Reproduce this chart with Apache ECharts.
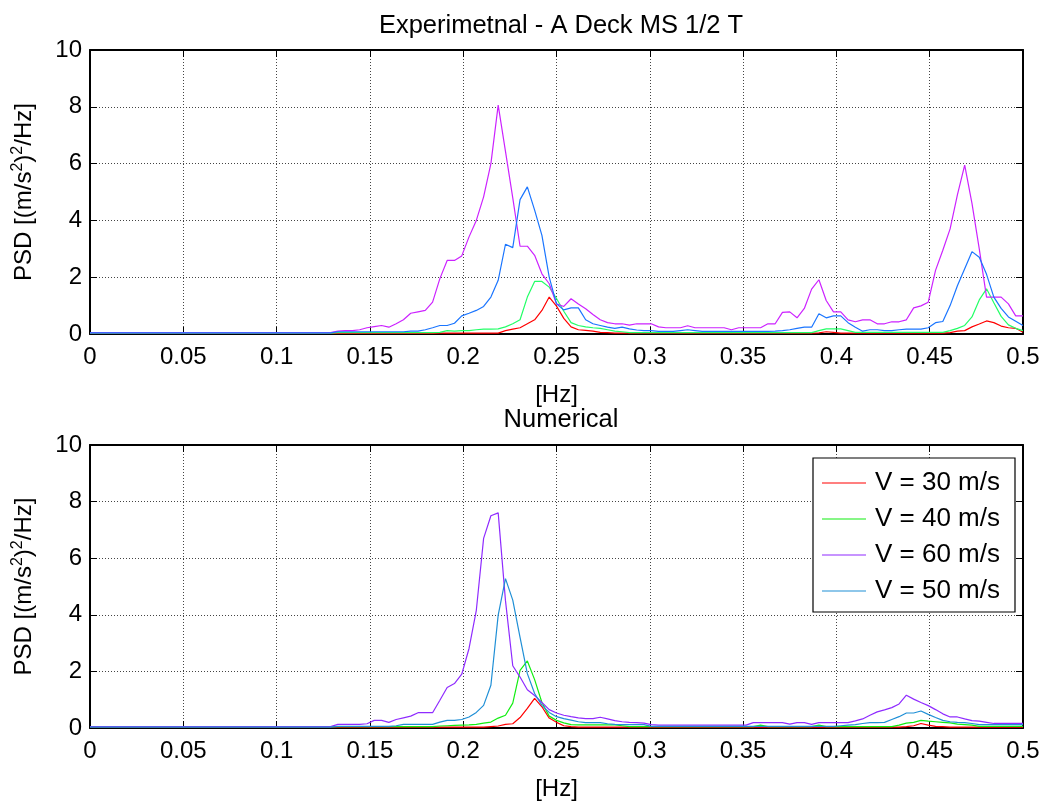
<!DOCTYPE html>
<html>
<head>
<meta charset="utf-8">
<script src="https://cdn.jsdelivr.net/npm/echarts@6/dist/echarts.min.js"></script>
<style>html,body{margin:0;padding:0;background:#fff;}#c{width:1046px;height:802px;}</style>
</head>
<body>
<div id="c"></div>
<script>
// Frequency resolution of the spectra (Hz per sample), samples from 0 to 0.5 Hz
const DF = 1 / 256;

const topTitle = 'Experimetnal - A Deck MS 1/2 T';
const bottomTitle = 'Numerical';
const seriesNames = ['V = 30 m/s', 'V = 40 m/s', 'V = 60 m/s', 'V = 50 m/s'];
const xTickLabels = ['0', '0.05', '0.1', '0.15', '0.2', '0.25', '0.3', '0.35', '0.4', '0.45', '0.5'];

// ---- Experimental (top) ----
const tR = [
0.02,0.02,0.02,0.02,0.02,0.02,0.02,0.02,0.02,0.02,
0.02,0.02,0.02,0.02,0.02,0.02,0.02,0.02,0.02,0.02,
0.02,0.02,0.02,0.02,0.02,0.02,0.02,0.02,0.02,0.02,
0.02,0.02,0.02,0.02,0.02,0.02,0.02,0.02,0.02,0.02,
0.02,0.02,0.02,0.02,0.02,0.02,0.02,0.02,0.03,0.03,
0.03,0.03,0.03,0.03,0.03,0.03,0.03,0.12,0.17,0.22,
0.36,0.50,0.83,1.30,0.98,0.55,0.25,0.15,0.13,0.10,
0.06,0.05,0.03,0.03,0.03,0.03,0.03,0.03,0.03,0.03,
0.03,0.03,0.03,0.03,0.03,0.03,0.03,0.03,0.03,0.03,
0.03,0.03,0.03,0.03,0.03,0.03,0.03,0.03,0.03,0.03,
0.04,0.08,0.06,0.03,0.03,0.03,0.03,0.03,0.03,0.03,
0.03,0.03,0.03,0.03,0.03,0.03,0.03,0.03,0.05,0.10,
0.12,0.25,0.35,0.46,0.40,0.28,0.22,0.20,0.06];
const tG = [
0.03,0.03,0.03,0.03,0.03,0.03,0.03,0.03,0.03,0.03,
0.03,0.03,0.03,0.03,0.03,0.03,0.03,0.03,0.03,0.03,
0.03,0.03,0.03,0.03,0.03,0.03,0.03,0.03,0.03,0.03,
0.03,0.03,0.03,0.03,0.05,0.05,0.05,0.05,0.05,0.05,
0.05,0.05,0.05,0.05,0.05,0.05,0.05,0.05,0.06,0.12,
0.10,0.12,0.12,0.15,0.17,0.17,0.18,0.25,0.36,0.50,
1.30,1.85,1.85,1.65,1.25,0.80,0.40,0.30,0.25,0.22,
0.20,0.15,0.10,0.08,0.05,0.05,0.05,0.05,0.05,0.05,
0.05,0.05,0.05,0.05,0.05,0.05,0.05,0.05,0.05,0.05,
0.05,0.05,0.05,0.05,0.05,0.05,0.05,0.05,0.05,0.05,
0.12,0.18,0.18,0.18,0.12,0.06,0.06,0.06,0.06,0.06,
0.06,0.06,0.06,0.06,0.06,0.06,0.06,0.06,0.12,0.20,
0.30,0.60,1.20,1.59,1.10,0.62,0.32,0.20,0.12];
const tP = [
0.05,0.05,0.05,0.05,0.05,0.05,0.05,0.05,0.05,0.05,
0.05,0.05,0.05,0.05,0.05,0.05,0.05,0.05,0.05,0.05,
0.05,0.05,0.05,0.05,0.05,0.05,0.05,0.05,0.05,0.05,
0.05,0.05,0.05,0.05,0.10,0.12,0.12,0.15,0.22,0.26,
0.30,0.24,0.36,0.50,0.73,0.78,0.83,1.12,1.95,2.59,
2.59,2.75,3.42,4.00,4.83,6.00,8.06,6.43,4.79,3.09,
3.09,2.77,2.12,1.77,1.06,0.97,1.24,1.06,0.89,0.69,
0.50,0.40,0.36,0.36,0.31,0.36,0.36,0.36,0.25,0.22,
0.22,0.22,0.29,0.22,0.22,0.22,0.22,0.22,0.15,0.22,
0.22,0.22,0.22,0.36,0.36,0.76,0.78,0.57,0.90,1.58,
1.91,1.18,0.78,0.78,0.50,0.43,0.50,0.50,0.36,0.36,
0.43,0.43,0.50,0.92,0.99,1.12,2.24,2.95,3.70,4.90,
5.95,4.60,3.00,1.30,1.30,1.30,1.06,0.64,0.64];
const tB = [
0.04,0.04,0.04,0.04,0.04,0.04,0.04,0.04,0.04,0.04,
0.04,0.04,0.04,0.04,0.04,0.04,0.04,0.04,0.04,0.04,
0.04,0.04,0.04,0.04,0.04,0.04,0.04,0.04,0.04,0.04,
0.04,0.04,0.04,0.04,0.08,0.08,0.08,0.08,0.08,0.08,
0.08,0.08,0.08,0.08,0.10,0.10,0.15,0.22,0.30,0.30,
0.38,0.64,0.73,0.83,0.97,1.30,1.89,3.16,3.04,4.73,
5.18,4.36,3.47,2.00,1.06,0.85,0.92,0.92,0.50,0.36,
0.30,0.24,0.20,0.24,0.18,0.14,0.12,0.12,0.09,0.09,
0.09,0.12,0.15,0.12,0.09,0.09,0.09,0.09,0.09,0.09,
0.09,0.09,0.09,0.09,0.10,0.12,0.15,0.20,0.24,0.24,
0.71,0.57,0.64,0.64,0.40,0.24,0.10,0.15,0.15,0.12,
0.12,0.15,0.17,0.17,0.17,0.22,0.40,0.44,1.00,1.70,
2.30,2.90,2.70,2.10,1.30,0.90,0.60,0.45,0.30];

// ---- Numerical (bottom) ----
const bR = [
0.03,0.03,0.03,0.03,0.03,0.03,0.03,0.03,0.03,0.03,
0.03,0.03,0.03,0.03,0.03,0.03,0.03,0.03,0.03,0.03,
0.03,0.03,0.03,0.03,0.03,0.03,0.03,0.03,0.03,0.03,
0.03,0.03,0.03,0.03,0.03,0.03,0.03,0.03,0.03,0.03,
0.03,0.03,0.03,0.03,0.03,0.03,0.03,0.03,0.03,0.03,
0.03,0.03,0.03,0.03,0.03,0.05,0.07,0.13,0.15,0.37,
0.69,1.05,0.75,0.35,0.20,0.08,0.05,0.03,0.03,0.03,
0.03,0.03,0.03,0.03,0.03,0.03,0.03,0.03,0.03,0.03,
0.03,0.03,0.03,0.03,0.03,0.03,0.03,0.03,0.03,0.03,
0.03,0.03,0.03,0.03,0.03,0.03,0.03,0.03,0.03,0.03,
0.03,0.03,0.03,0.03,0.03,0.03,0.03,0.03,0.03,0.03,
0.03,0.03,0.05,0.08,0.16,0.10,0.06,0.05,0.03,0.03,
0.03,0.03,0.03,0.03,0.03,0.03,0.03,0.03,0.03];
const bG = [
0.05,0.05,0.05,0.05,0.05,0.05,0.05,0.05,0.05,0.05,
0.05,0.05,0.05,0.05,0.05,0.05,0.05,0.05,0.05,0.05,
0.05,0.05,0.05,0.05,0.05,0.05,0.05,0.05,0.05,0.05,
0.05,0.05,0.05,0.05,0.05,0.05,0.05,0.05,0.05,0.05,
0.05,0.05,0.05,0.05,0.05,0.05,0.05,0.05,0.07,0.08,
0.09,0.10,0.11,0.13,0.17,0.21,0.35,0.45,0.88,2.04,
2.37,1.71,0.90,0.42,0.27,0.18,0.12,0.11,0.11,0.11,
0.11,0.11,0.11,0.08,0.05,0.05,0.05,0.05,0.05,0.05,
0.05,0.05,0.05,0.05,0.05,0.05,0.05,0.05,0.05,0.05,
0.05,0.05,0.10,0.05,0.05,0.05,0.05,0.05,0.05,0.05,
0.10,0.05,0.05,0.05,0.05,0.05,0.05,0.05,0.05,0.05,
0.05,0.10,0.17,0.20,0.27,0.24,0.22,0.20,0.18,0.14,
0.12,0.10,0.06,0.06,0.06,0.06,0.06,0.06,0.06];
const bP = [
0.05,0.05,0.05,0.05,0.05,0.05,0.05,0.05,0.05,0.05,
0.05,0.05,0.05,0.05,0.05,0.05,0.05,0.05,0.05,0.05,
0.05,0.05,0.05,0.05,0.05,0.05,0.05,0.05,0.05,0.05,
0.05,0.05,0.05,0.05,0.13,0.13,0.13,0.13,0.15,0.27,
0.27,0.20,0.30,0.36,0.42,0.54,0.54,0.54,0.98,1.43,
1.57,1.90,2.81,4.16,6.70,7.50,7.60,4.50,2.20,1.80,
1.35,1.15,0.90,0.65,0.53,0.45,0.40,0.36,0.33,0.33,
0.38,0.32,0.26,0.22,0.20,0.19,0.17,0.12,0.10,0.10,
0.10,0.10,0.10,0.10,0.10,0.10,0.10,0.10,0.10,0.10,
0.10,0.19,0.19,0.19,0.19,0.19,0.14,0.19,0.19,0.13,
0.19,0.19,0.19,0.19,0.19,0.25,0.32,0.45,0.57,0.64,
0.72,0.85,1.16,1.02,0.90,0.79,0.65,0.50,0.39,0.39,
0.32,0.26,0.24,0.20,0.16,0.16,0.16,0.16,0.16];
const bB = [
0.03,0.03,0.03,0.03,0.03,0.03,0.03,0.03,0.03,0.03,
0.03,0.03,0.03,0.03,0.03,0.03,0.03,0.03,0.03,0.03,
0.03,0.03,0.03,0.03,0.03,0.03,0.03,0.03,0.03,0.03,
0.03,0.03,0.03,0.03,0.06,0.06,0.06,0.06,0.06,0.06,
0.06,0.06,0.08,0.13,0.13,0.13,0.13,0.13,0.21,0.27,
0.27,0.30,0.39,0.55,0.80,1.51,3.99,5.28,4.52,3.20,
1.92,1.22,0.80,0.55,0.40,0.33,0.28,0.22,0.19,0.19,
0.19,0.15,0.13,0.12,0.12,0.12,0.12,0.06,0.06,0.06,
0.06,0.06,0.06,0.06,0.06,0.06,0.06,0.06,0.06,0.06,
0.06,0.06,0.06,0.06,0.06,0.06,0.06,0.06,0.06,0.06,
0.06,0.06,0.06,0.08,0.10,0.12,0.16,0.19,0.19,0.20,
0.30,0.40,0.53,0.53,0.60,0.48,0.37,0.27,0.22,0.20,
0.19,0.16,0.12,0.12,0.12,0.12,0.12,0.12,0.12];

const FONT = 'Arial, "Liberation Sans", Helvetica, sans-serif';
const toPairs = arr => arr.map((v, i) => [i * DF, v]);

const chart = echarts.init(document.getElementById('c'), null, {renderer: 'canvas'});

const grids = [
  {left: 90, top: 50, width: 933, height: 284},
  {left: 90, top: 445, width: 933, height: 283}
];

function mainX(gi) {
  return {
    type: 'value', gridIndex: gi, min: 0, max: 0.5, interval: 0.05,
    name: '[Hz]', nameLocation: 'middle', nameGap: 49,
    nameTextStyle: {fontFamily: FONT, fontSize: 24, color: '#000'},
    axisLine: {show: true, onZero: false, lineStyle: {color: '#000', width: 2}},
    axisTick: {show: true, inside: true, length: 7, lineStyle: {color: '#000', width: 1}},
    axisLabel: {fontFamily: FONT, fontSize: 24, color: '#000', margin: 11,
      formatter: v => xTickLabels[Math.round(v / 0.05)]},
    splitLine: {show: true, lineStyle: {color: '#444', type: [1, 2], width: 1}}
  };
}
function boxX(gi) {
  return {
    type: 'value', gridIndex: gi, min: 0, max: 0.5, interval: 0.05, position: 'top',
    axisLine: {show: true, onZero: false, lineStyle: {color: '#000', width: 2}},
    axisTick: {show: true, inside: true, length: 7, lineStyle: {color: '#000', width: 1}},
    axisLabel: {show: false}, splitLine: {show: false}
  };
}
const yName = '{a|PSD [(m/s}{b|2}{a|)}{b|2}{a|/Hz]}';
function mainY(gi) {
  return {
    type: 'value', gridIndex: gi, min: 0, max: 10, interval: 2,
    name: yName, nameLocation: 'middle', nameGap: 52, nameRotate: 90,
    nameTextStyle: {rich: {
      a: {fontFamily: FONT, fontSize: 24, color: '#000', lineHeight: 28},
      b: {fontFamily: FONT, fontSize: 16, color: '#000', verticalAlign: 'top', lineHeight: 28, padding: [0, 0, 10, 0]}
    }},
    axisLine: {show: true, onZero: false, lineStyle: {color: '#000', width: 2}},
    axisTick: {show: true, inside: true, length: 7, lineStyle: {color: '#000', width: 1}},
    axisLabel: {fontFamily: FONT, fontSize: 24, color: '#000', margin: 8},
    splitLine: {show: true, lineStyle: {color: '#444', type: [1, 2], width: 1}}
  };
}
function boxY(gi) {
  return {
    type: 'value', gridIndex: gi, min: 0, max: 10, interval: 2, position: 'right',
    axisLine: {show: true, onZero: false, lineStyle: {color: '#000', width: 2}},
    axisTick: {show: true, inside: true, length: 7, lineStyle: {color: '#000', width: 1}},
    axisLabel: {show: false}, splitLine: {show: false}
  };
}

function line(name, data, color, xi, yi) {
  return {
    type: 'line', name: name, data: toPairs(data), xAxisIndex: xi, yAxisIndex: yi,
    symbol: 'none', showSymbol: false, smooth: false,
    lineStyle: {color: color, width: 1.2}, itemStyle: {color: color},
    emphasis: {disabled: true}, silent: true
  };
}

const option = {
  backgroundColor: '#fff',
  animation: false,
  title: [
    {text: topTitle, left: 556, top: 8, textAlign: 'center',
     textStyle: {fontFamily: FONT, fontSize: 25.5, fontWeight: 'normal', color: '#000'}},
    {text: bottomTitle, left: 556, top: 402, textAlign: 'center',
     textStyle: {fontFamily: FONT, fontSize: 25.5, fontWeight: 'normal', color: '#000'}}
  ],
  grid: grids,
  xAxis: [mainX(0), boxX(0), mainX(1), boxX(1)],
  yAxis: [mainY(0), boxY(0), mainY(1), boxY(1)],
  legend: {
    data: seriesNames, orient: 'vertical', left: 813, top: 458,
    padding: [12, 15, 8, 9], itemGap: 10, itemWidth: 44, itemHeight: 1.2, icon: 'rect',
    backgroundColor: '#fff', borderColor: '#000', borderWidth: 1.2,
    textStyle: {fontFamily: FONT, fontSize: 26, color: '#000', padding: [0, 0, 0, 4]},
    selectedMode: false
  },
  series: [
    line('top30', tR, '#ff0000', 0, 0),
    line('top40', tG, '#22ff66', 0, 0),
    line('top60', tP, '#cc22ff', 0, 0),
    line('top50', tB, '#1a75ff', 0, 0),
    line(seriesNames[0], bR, '#ff0000', 2, 2),
    line(seriesNames[1], bG, '#11ee11', 2, 2),
    line(seriesNames[2], bP, '#8f2bff', 2, 2),
    line(seriesNames[3], bB, '#1f8fd6', 2, 2)
  ]
};
chart.setOption(option);
</script>
</body>
</html>
